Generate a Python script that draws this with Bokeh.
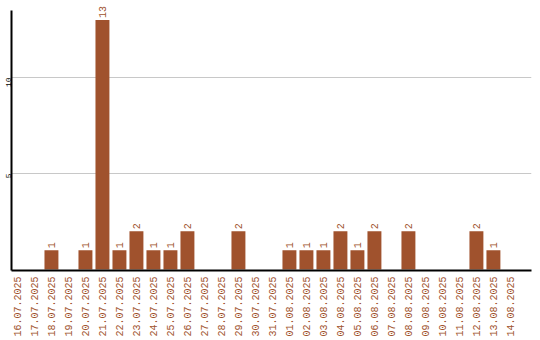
from math import pi
from bokeh.plotting import figure
from bokeh.models import Range1d, FixedTicker, ColumnDataSource
from bokeh.core.properties import value
from bokeh.embed import file_html
from bokeh.resources import INLINE

dates = ["16.07.2025", "17.07.2025", "18.07.2025", "19.07.2025", "20.07.2025",
         "21.07.2025", "22.07.2025", "23.07.2025", "24.07.2025", "25.07.2025",
         "26.07.2025", "27.07.2025", "28.07.2025", "29.07.2025", "30.07.2025",
         "31.07.2025", "01.08.2025", "02.08.2025", "03.08.2025", "04.08.2025",
         "05.08.2025", "06.08.2025", "07.08.2025", "08.08.2025", "09.08.2025",
         "10.08.2025", "11.08.2025", "12.08.2025", "13.08.2025", "14.08.2025"]
counts = [0, 0, 1, 0, 1, 13, 1, 2, 1, 1, 2, 0, 0, 2, 0,
          0, 1, 1, 1, 2, 1, 2, 0, 2, 0, 0, 0, 2, 1, 0]
y_ticks = [5, 10]

BROWN = "#A0522D"
FONT = "Liberation Mono"

xs = list(range(len(dates)))
src = ColumnDataSource(dict(x=xs, top=counts))
lab_x = [x for x, c in zip(xs, counts) if c > 0]
lab_y = [c for c in counts if c > 0]
lab_t = [str(c) for c in counts if c > 0]
lsrc = ColumnDataSource(dict(x=lab_x, y=lab_y, t=lab_t))

p = figure(width=540, height=340, output_backend="svg", toolbar_location=None,
           x_range=Range1d(-0.35, 30.24), y_range=Range1d(-0.05, 14.01),
           min_border_left=11, min_border_right=9, min_border_top=0,
           min_border_bottom=70)
p.outline_line_color = None
p.background_fill_color = "white"
p.border_fill_color = "white"

p.vbar(x="x", top="top", width=0.82, bottom=0, source=src,
       fill_color=BROWN, line_color=None)
p.text(x="x", y="y", text="t", source=lsrc, angle=pi / 2,
       text_align="left", text_baseline="middle", y_offset=-2,
       text_color=BROWN, text_font=value(FONT), text_font_size="10px")

xa = p.xaxis[0]
xa.ticker = FixedTicker(ticks=xs)
xa.major_label_overrides = {i: d for i, d in zip(xs, dates)}
xa.major_label_orientation = pi / 2
xa.major_label_text_color = BROWN
xa.major_label_text_font = FONT
xa.major_label_text_font_size = "10px"
xa.major_tick_line_color = None
xa.major_tick_out = 0
xa.major_tick_in = 0
xa.minor_tick_line_color = None
xa.major_label_standoff = 6
xa.axis_line_color = "black"
xa.axis_line_width = 2

ya = p.yaxis[0]
ya.ticker = FixedTicker(ticks=y_ticks)
ya.bounds = (-0.05, 13.5)
ya.major_label_orientation = pi / 2
ya.major_label_text_color = "black"
ya.major_label_text_font = FONT
ya.major_label_text_font_size = "8px"
ya.major_label_text_line_height = 1.0
ya.major_tick_line_color = None
ya.major_tick_out = 0
ya.major_tick_in = 0
ya.minor_tick_line_color = None
ya.major_label_standoff = 3
ya.axis_line_color = "black"
ya.axis_line_width = 2

p.xgrid.grid_line_color = None
p.ygrid.ticker = FixedTicker(ticks=y_ticks)
p.ygrid.grid_line_color = "#c8c8c8"
p.ygrid.grid_line_width = 1

open("out.html", "w").write(file_html(p, INLINE))
